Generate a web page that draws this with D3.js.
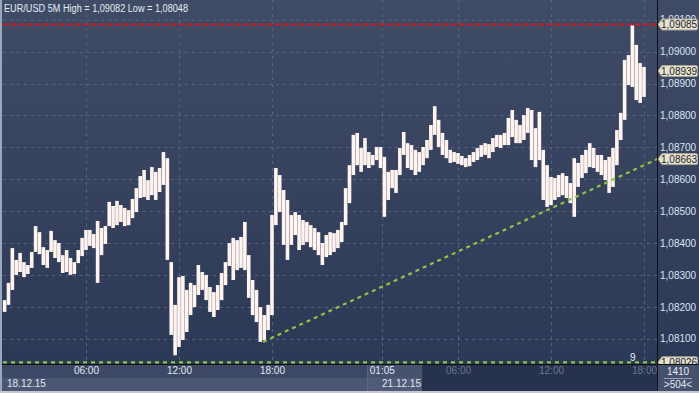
<!DOCTYPE html>
<html>
<head>
<meta charset="utf-8">
<script src="https://cdn.jsdelivr.net/npm/d3@7/dist/d3.min.js"></script>
<style>
  body { margin: 0; background: #2f3b57; }
  svg { display: block; font-family: "Liberation Sans", Arial, sans-serif; }
</style>
</head>
<body>
<div id="chart"></div>
<script>
// 15 minute bars, 18.12.15 00:45 -> 21.12.15 18:00 (weekend removed)
const highs = [
  1.08221, 1.08275, 1.08384, 1.08347, 1.08369, 1.08340, 1.08331, 1.08372, 1.08453, 1.08434,
  1.08387, 1.08378, 1.08438, 1.08409, 1.08400, 1.08362, 1.08378, 1.08353, 1.08340, 1.08378,
  1.08416, 1.08441, 1.08441, 1.08428, 1.08469, 1.08447, 1.08453, 1.08529, 1.08516, 1.08532,
  1.08519, 1.08510, 1.08503, 1.08538, 1.08572, 1.08610, 1.08629, 1.08597, 1.08638, 1.08623,
  1.08635, 1.08685, 1.08666, 1.08340, 1.08206, 1.08293, 1.08297, 1.08253, 1.08275, 1.08268,
  1.08331, 1.08309, 1.08300, 1.08262, 1.08246, 1.08268, 1.08306, 1.08340, 1.08400, 1.08416,
  1.08409, 1.08419, 1.08466, 1.08362, 1.08284, 1.08253, 1.08199, 1.08174, 1.08206, 1.08488,
  1.08635, 1.08613, 1.08566, 1.08535, 1.08488, 1.08497, 1.08488, 1.08472, 1.08466, 1.08456,
  1.08447, 1.08434, 1.08400, 1.08425, 1.08434, 1.08431, 1.08441, 1.08466, 1.08572, 1.08644,
  1.08739, 1.08745, 1.08698, 1.08729, 1.08685, 1.08676, 1.08701, 1.08701, 1.08670, 1.08623,
  1.08629, 1.08629, 1.08698, 1.08748, 1.08713, 1.08707, 1.08692, 1.08685, 1.08701, 1.08723,
  1.08770, 1.08829, 1.08786, 1.08745, 1.08723, 1.08692, 1.08685, 1.08682, 1.08673, 1.08666,
  1.08676, 1.08685, 1.08698, 1.08707, 1.08713, 1.08710, 1.08729, 1.08739, 1.08739, 1.08745,
  1.08792, 1.08817, 1.08786, 1.08770, 1.08801, 1.08823, 1.08817, 1.08760, 1.08811, 1.08692,
  1.08644, 1.08607, 1.08604, 1.08613, 1.08619, 1.08610, 1.08588, 1.08666, 1.08651, 1.08676,
  1.08692, 1.08713, 1.08698, 1.08676, 1.08676, 1.08660, 1.08670, 1.08698, 1.08754, 1.08808,
  1.08974, 1.08989, 1.09082, 1.09021, 1.08964, 1.08952
];
const lows = [
  1.08184, 1.08206, 1.08253, 1.08300, 1.08309, 1.08293, 1.08303, 1.08322, 1.08372, 1.08365,
  1.08331, 1.08322, 1.08372, 1.08353, 1.08340, 1.08306, 1.08309, 1.08300, 1.08303, 1.08337,
  1.08359, 1.08378, 1.08391, 1.08384, 1.08275, 1.08362, 1.08397, 1.08453, 1.08447, 1.08456,
  1.08466, 1.08453, 1.08456, 1.08478, 1.08497, 1.08541, 1.08544, 1.08535, 1.08550, 1.08535,
  1.08560, 1.08582, 1.08347, 1.08112, 1.08048, 1.08074, 1.08096, 1.08121, 1.08174, 1.08199,
  1.08237, 1.08253, 1.08221, 1.08184, 1.08168, 1.08190, 1.08221, 1.08268, 1.08328, 1.08284,
  1.08315, 1.08322, 1.08315, 1.08228, 1.08174, 1.08152, 1.08090, 1.08096, 1.08127, 1.08174,
  1.08456, 1.08497, 1.08394, 1.08347, 1.08394, 1.08425, 1.08378, 1.08394, 1.08403, 1.08387,
  1.08378, 1.08362, 1.08331, 1.08356, 1.08362, 1.08372, 1.08384, 1.08403, 1.08456, 1.08525,
  1.08613, 1.08644, 1.08623, 1.08644, 1.08635, 1.08644, 1.08660, 1.08635, 1.08482, 1.08535,
  1.08572, 1.08557, 1.08613, 1.08676, 1.08635, 1.08629, 1.08613, 1.08623, 1.08644, 1.08666,
  1.08692, 1.08739, 1.08701, 1.08676, 1.08666, 1.08651, 1.08654, 1.08648, 1.08644, 1.08638,
  1.08641, 1.08654, 1.08660, 1.08670, 1.08676, 1.08666, 1.08685, 1.08701, 1.08698, 1.08707,
  1.08707, 1.08732, 1.08713, 1.08713, 1.08723, 1.08745, 1.08660, 1.08638, 1.08660, 1.08535,
  1.08513, 1.08519, 1.08535, 1.08544, 1.08550, 1.08541, 1.08525, 1.08482, 1.08576, 1.08604,
  1.08619, 1.08638, 1.08635, 1.08623, 1.08613, 1.08597, 1.08557, 1.08576, 1.08644, 1.08723,
  1.08786, 1.08895, 1.08889, 1.08848, 1.08839, 1.08858
];

// time axis (bar index -> label)
const tickIndex = [21, 45, 69, 97.33, 117, 141, 165];
const tickLabels = ["06:00", "12:00", "18:00", "01:05", "06:00", "12:00", "18:00"];
const dateIndex = [0, 93];
const dateLabels = ["18.12.15", "21.12.15"];

// price axis
const priceTicks = [1.081, 1.082, 1.083, 1.084, 1.085, 1.086, 1.087, 1.088, 1.089, 1.090, 1.091];

// levels and lines
const resistance = 1.09085;
const support = 1.08026;
const trendIndex = [66.7, 168.4];
const trendPrice = [1.08090, 1.08663];
const tagPrices = [1.09085, 1.08939, 1.08663, 1.08026];

const W = 699, H = 393;
const plotRight = 657, plotBottom = 364;

const svg = d3.select("#chart").append("svg")
  .attr("width", W)
  .attr("height", H);

const defs = svg.append("defs");
const grad = defs.append("linearGradient")
  .attr("id", "bg")
  .attr("x1", 0).attr("y1", 0).attr("x2", 0).attr("y2", 1);
grad.append("stop").attr("offset", "0%").attr("stop-color", "#404b66");
grad.append("stop").attr("offset", "100%").attr("stop-color", "#2c3956");

// clip for the bottom axis (local coords of the axis group)
defs.append("clipPath").attr("id", "axisClip")
  .append("rect").attr("x", 0).attr("y", 0).attr("width", plotRight).attr("height", H - plotBottom);
// clip for the price tags
defs.append("clipPath").attr("id", "tagClip")
  .append("rect").attr("x", 0).attr("y", 0).attr("width", W).attr("height", plotBottom);

// background
svg.append("rect").attr("width", W).attr("height", plotBottom).attr("fill", "url(#bg)");

const x = d3.scaleLinear().domain([0, 165]).range([4.6, 644]);
const y = d3.scaleLinear().domain([1.080, 1.091]).range([370.6, 19.7]);

// grid
svg.append("g").selectAll("line")
  .data(priceTicks)
  .join("line")
    .attr("x1", 3).attr("x2", plotRight)
    .attr("y1", d => Math.round(y(d)) + 0.5)
    .attr("y2", d => Math.round(y(d)) + 0.5)
    .attr("stroke", "#56627f")
    .attr("stroke-dasharray", "3,4");

svg.append("g").selectAll("line")
  .data(tickIndex)
  .join("line")
    .attr("x1", d => Math.round(x(d)) + 0.5)
    .attr("x2", d => Math.round(x(d)) + 0.5)
    .attr("y1", 0).attr("y2", plotBottom)
    .attr("stroke", "#56627f")
    .attr("stroke-dasharray", "3,4");

// resistance (red) and support (green) levels
svg.append("line")
  .attr("x1", 3).attr("x2", plotRight)
  .attr("y1", y(resistance)).attr("y2", y(resistance))
  .attr("stroke", "#e3101c").attr("stroke-width", 2.2)
  .attr("stroke-dasharray", "5,3");

svg.append("line")
  .attr("x1", 3).attr("x2", plotRight)
  .attr("y1", y(support)).attr("y2", y(support))
  .attr("stroke", "#8dc63f").attr("stroke-width", 2.2)
  .attr("stroke-dasharray", "4,4");

// bars
svg.append("g").selectAll("rect")
  .data(highs)
  .join("rect")
    .attr("x", (d, i) => x(i) - 1.8)
    .attr("width", 3.6)
    .attr("y", d => y(d))
    .attr("height", (d, i) => Math.max(1, y(lows[i]) - y(d)))
    .attr("fill", "#fff4ef");

// trend line
svg.append("line")
  .attr("x1", x(trendIndex[0])).attr("y1", y(trendPrice[0]))
  .attr("x2", x(trendIndex[1])).attr("y2", y(trendPrice[1]))
  .attr("stroke", "#8dc63f").attr("stroke-width", 2.2)
  .attr("stroke-dasharray", "4,4");

svg.append("text")
  .attr("x", 630).attr("y", 361)
  .attr("fill", "#eef2f8").attr("font-size", 10)
  .text("9");

// title
svg.append("text")
  .attr("x", 4).attr("y", 12)
  .attr("fill", "#e6ecf4").attr("font-size", 10)
  .attr("textLength", 184)
  .attr("lengthAdjust", "spacingAndGlyphs")
  .text("EUR/USD 5M High = 1,09082 Low = 1,08048");

// right price axis
const fmt = d => d3.format(".5f")(d).replace(".", ",");
const yAxis = svg.append("g")
  .attr("transform", `translate(${plotRight},0)`)
  .call(d3.axisRight(y).tickValues(priceTicks).tickFormat(fmt).tickSize(0).tickPadding(3));
yAxis.select(".domain").remove();
yAxis.selectAll("text")
  .attr("fill", "#dbe5f1")
  .attr("font-size", 10)
  .attr("font-family", "Liberation Sans, Arial, sans-serif");

// price tags
const tags = svg.append("g").attr("clip-path", "url(#tagClip)")
  .selectAll("g")
  .data(tagPrices)
  .join("g")
    .attr("transform", d => `translate(${plotRight},${y(d)})`);
tags.append("path")
  .attr("d", "M1,0 L5,-5.5 H39 Q40.5,-5.5 40.5,-4 V4 Q40.5,5.5 39,5.5 H5 Z")
  .attr("fill", "#e6e2cc")
  .attr("stroke", "#a8a696");
tags.append("text")
  .attr("x", 4).attr("y", 3.8)
  .attr("fill", "#1e2433").attr("font-size", 10)
  .text(fmt);

// bottom axis background
const axisBg = svg.append("g");
axisBg.append("rect").attr("x", 0).attr("y", plotBottom).attr("width", 422).attr("height", 14).attr("fill", "#3c4865");
axisBg.append("rect").attr("x", 0).attr("y", plotBottom + 14).attr("width", 422).attr("height", 13).attr("fill", "#4a5672");
axisBg.append("rect").attr("x", 367).attr("y", plotBottom).attr("width", 55).attr("height", 14).attr("fill", "#46526e");
axisBg.append("rect").attr("x", 367).attr("y", plotBottom + 14).attr("width", 55).attr("height", 13).attr("fill", "#4f5b77");
axisBg.append("rect").attr("x", 422).attr("y", plotBottom).attr("width", plotRight - 422).attr("height", 27).attr("fill", "#27324e");
axisBg.append("line").attr("x1", 367.5).attr("x2", 367.5).attr("y1", plotBottom).attr("y2", plotBottom + 27).attr("stroke", "#5a6682");

// bottom time axis
const xAxis = svg.append("g")
  .attr("transform", `translate(0,${plotBottom})`)
  .attr("clip-path", "url(#axisClip)")
  .call(d3.axisBottom(x).tickValues(tickIndex).tickFormat((d, i) => tickLabels[i]).tickSize(0).tickPadding(3));
xAxis.select(".domain").remove();
xAxis.selectAll("text")
  .attr("font-size", 10)
  .attr("font-family", "Liberation Sans, Arial, sans-serif")
  .attr("fill", d => x(d) > 422 ? "#6c7790" : "#e2e8f1");

svg.append("g").selectAll("text")
  .data(dateIndex)
  .join("text")
    .attr("x", (d, i) => i === 0 ? 7 : 421)
    .attr("y", plotBottom + 23)
    .attr("text-anchor", (d, i) => i === 0 ? "start" : "end")
    .attr("fill", "#e2e8f1").attr("font-size", 10)
    .text((d, i) => dateLabels[i]);

// bottom right info box
svg.append("rect").attr("x", plotRight).attr("y", plotBottom).attr("width", W - plotRight).attr("height", 27).attr("fill", "#44506c");
svg.append("text").attr("x", 678).attr("y", 375).attr("text-anchor", "middle")
  .attr("fill", "#e6ecf4").attr("font-size", 10).text("1410");
svg.append("line").attr("x1", 664).attr("x2", 692).attr("y1", 378.5).attr("y2", 378.5).attr("stroke", "#9aa4b8");
svg.append("text").attr("x", 678).attr("y", 388).attr("text-anchor", "middle")
  .attr("fill", "#e6ecf4").attr("font-size", 10).text(">504<");

// frame lines
svg.append("line").attr("x1", 0).attr("x2", W).attr("y1", plotBottom + 0.5).attr("y2", plotBottom + 0.5).attr("stroke", "#0c0f16");
svg.append("line").attr("x1", plotRight + 0.5).attr("x2", plotRight + 0.5).attr("y1", 0).attr("y2", H - 2).attr("stroke", "#0c0f16");
svg.append("rect").attr("x", 0).attr("y", 0).attr("width", 2).attr("height", H).attr("fill", "#9aa8bc");
svg.append("rect").attr("x", 0).attr("y", H - 2).attr("width", W).attr("height", 2).attr("fill", "#c4c8d0");
</script>
</body>
</html>
